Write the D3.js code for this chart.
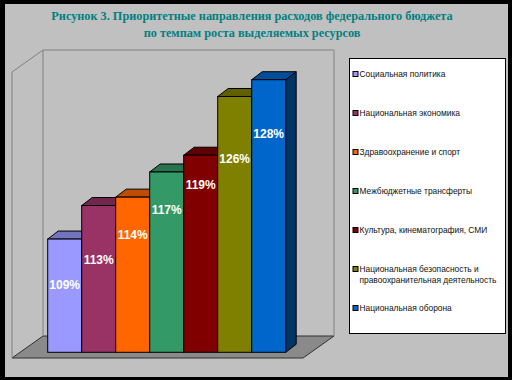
<!DOCTYPE html>
<html>
<head>
<meta charset="utf-8">
<script src="https://cdn.jsdelivr.net/npm/d3@7"></script>
<style>
  body { margin: 0; background: #000; }
  svg { display: block; }
</style>
</head>
<body>
<div id="chart"></div>
<script>
const categories = [
  'Социальная политика',
  'Национальная экономика',
  'Здравоохранение и спорт',
  'Межбюджетные трансферты',
  'Культура, кинематография, СМИ',
  'Национальная безопасность и правоохранительная деятельность',
  'Национальная оборона'
];
const growth = [109, 113, 114, 117, 119, 126, 128];
const colors = ['#9999FF', '#993366', '#FF6600', '#339966', '#800000', '#808000', '#0066CC'];
const titleLines = [
  'Рисунок 3. Приоритетные направления расходов федерального бюджета',
  'по темпам роста выделяемых ресурсов'
];

const WIDTH = 512;
const HEIGHT = 380;
// floor / walls, front plane
const FLOOR = { X0: 12, X1: 303, Y: 358 };
const DEPTH = { DX: 31, DY: -22 };
const WALL_TOP = 72;
// bars sit a bit behind the floor front edge
const BAR_OFF = { DX: 8, DY: -5.7 };
const BAR_DEPTH = { DX: 10.5, DY: -8 };
const LEGEND = { X: 349.5, Y: 58.5, W: 156, H: 275 };

const svg = d3.select('#chart')
  .append('svg')
  .attr('width', WIDTH)
  .attr('height', HEIGHT);

svg.append('rect')
  .attr('width', WIDTH).attr('height', HEIGHT)
  .attr('fill', '#000');

svg.append('rect')
  .attr('x', 5).attr('y', 4)
  .attr('width', 503).attr('height', 373)
  .attr('fill', '#C0C0C0');

// title
svg.append('g')
  .selectAll('text')
  .data(titleLines)
  .join('text')
  .attr('x', 252)
  .attr('y', (d, i) => 20 + i * 17)
  .attr('text-anchor', 'middle')
  .attr('font-family', '"Liberation Serif", "Times New Roman", serif')
  .attr('font-weight', 'bold')
  .attr('font-size', 12.25)
  .attr('fill', '#008080')
  .text((d) => d);

// walls
const pts = (arr) => arr.map((p) => p.join(',')).join(' ');
const walls = svg.append('g');
const bx0 = FLOOR.X0 + DEPTH.DX;
const bx1 = FLOOR.X1 + DEPTH.DX;
const byTop = WALL_TOP + DEPTH.DY;
const byBot = FLOOR.Y + DEPTH.DY;

walls.append('polygon')
  .attr('points', pts([[FLOOR.X0, FLOOR.Y], [FLOOR.X1, FLOOR.Y], [bx1, byBot], [bx0, byBot]]))
  .attr('fill', '#8A8A8A')
  .attr('stroke', '#303030')
  .attr('stroke-width', 1);

walls.append('polyline')
  .attr('points', pts([[FLOOR.X0, FLOOR.Y], [FLOOR.X0, WALL_TOP], [bx0, byTop], [bx0, byBot]]))
  .attr('fill', 'none')
  .attr('stroke', '#808080');

walls.append('polyline')
  .attr('points', pts([[bx0, byTop], [bx1, byTop], [bx1, byBot]]))
  .attr('fill', 'none')
  .attr('stroke', '#808080');

// scales (bar front plane)
const xScale = d3.scaleBand()
  .domain(d3.range(growth.length))
  .range([47.7, 285.7])
  .padding(0);

const yBase = FLOOR.Y + BAR_OFF.DY;
const yScale = d3.scaleLinear()
  .domain([95.5, 129.6])
  .range([yBase, WALL_TOP + BAR_OFF.DY]);

const labelY = d3.scaleLinear()
  .domain([0, growth.length - 1])
  .range([285, 134]);

const bars = svg.append('g')
  .selectAll('g')
  .data(growth)
  .join('g');

const shade = (c, k) => {
  const col = d3.rgb(c);
  return d3.rgb(col.r * k, col.g * k, col.b * k).formatHex();
};

// side face
bars.append('polygon')
  .attr('points', (d, i) => {
    const x = xScale(i) + xScale.bandwidth();
    const y = yScale(d);
    return pts([[x, y], [x + BAR_DEPTH.DX, y + BAR_DEPTH.DY],
      [x + BAR_DEPTH.DX, yBase + BAR_DEPTH.DY], [x, yBase]]);
  })
  .attr('fill', (d, i) => shade(colors[i], 0.5))
  .attr('stroke', '#000')
  .attr('stroke-linejoin', 'round');

// top face
bars.append('polygon')
  .attr('points', (d, i) => {
    const x = xScale(i);
    const w = xScale.bandwidth();
    const y = yScale(d);
    return pts([[x, y], [x + w, y], [x + w + BAR_DEPTH.DX, y + BAR_DEPTH.DY],
      [x + BAR_DEPTH.DX, y + BAR_DEPTH.DY]]);
  })
  .attr('fill', (d, i) => shade(colors[i], 0.75))
  .attr('stroke', '#000')
  .attr('stroke-linejoin', 'round');

// front face
bars.append('rect')
  .attr('x', (d, i) => xScale(i))
  .attr('y', (d) => yScale(d))
  .attr('width', xScale.bandwidth())
  .attr('height', (d) => yBase - yScale(d))
  .attr('fill', (d, i) => colors[i])
  .attr('stroke', '#000');

// value labels
svg.append('g')
  .selectAll('text')
  .data(growth)
  .join('text')
  .attr('x', (d, i) => xScale(i) + xScale.bandwidth() / 2)
  .attr('y', (d, i) => labelY(i))
  .attr('dy', '0.36em')
  .attr('text-anchor', 'middle')
  .attr('font-family', '"Liberation Sans", Arial, sans-serif')
  .attr('font-weight', 'bold')
  .attr('font-size', 12)
  .attr('fill', '#fff')
  .text((d) => `${d}%`);

// legend
const legend = svg.append('g');
legend.append('rect')
  .attr('x', LEGEND.X).attr('y', LEGEND.Y)
  .attr('width', LEGEND.W).attr('height', LEGEND.H)
  .attr('fill', '#fff')
  .attr('stroke', '#000');

const items = legend.selectAll('g.item')
  .data(categories)
  .join('g')
  .attr('class', 'item')
  .attr('transform', (d, i) => `translate(${LEGEND.X + 3.5}, ${74 + i * 39})`);

items.append('rect')
  .attr('x', 0).attr('y', -2.5)
  .attr('width', 5).attr('height', 5)
  .attr('fill', (d, i) => colors[i])
  .attr('stroke', '#000');

items.append('text')
  .attr('x', 6.5)
  .attr('font-family', '"Liberation Sans", Arial, sans-serif')
  .attr('font-size', 8.4)
  .attr('fill', '#111')
  .each(function (d) {
    const t = d3.select(this);
    const words = d.split(' ');
    let line = [];
    let tspan = t.append('tspan').attr('x', 6.5).attr('dy', '0.35em');
    words.forEach((w) => {
      line.push(w);
      tspan.text(line.join(' '));
      if (tspan.node().getComputedTextLength() > 142 && line.length > 1) {
        line.pop();
        tspan.text(line.join(' '));
        line = [w];
        tspan = t.append('tspan').attr('x', 6.5).attr('dy', 11).text(w);
      }
    });
  });
</script>
</body>
</html>
